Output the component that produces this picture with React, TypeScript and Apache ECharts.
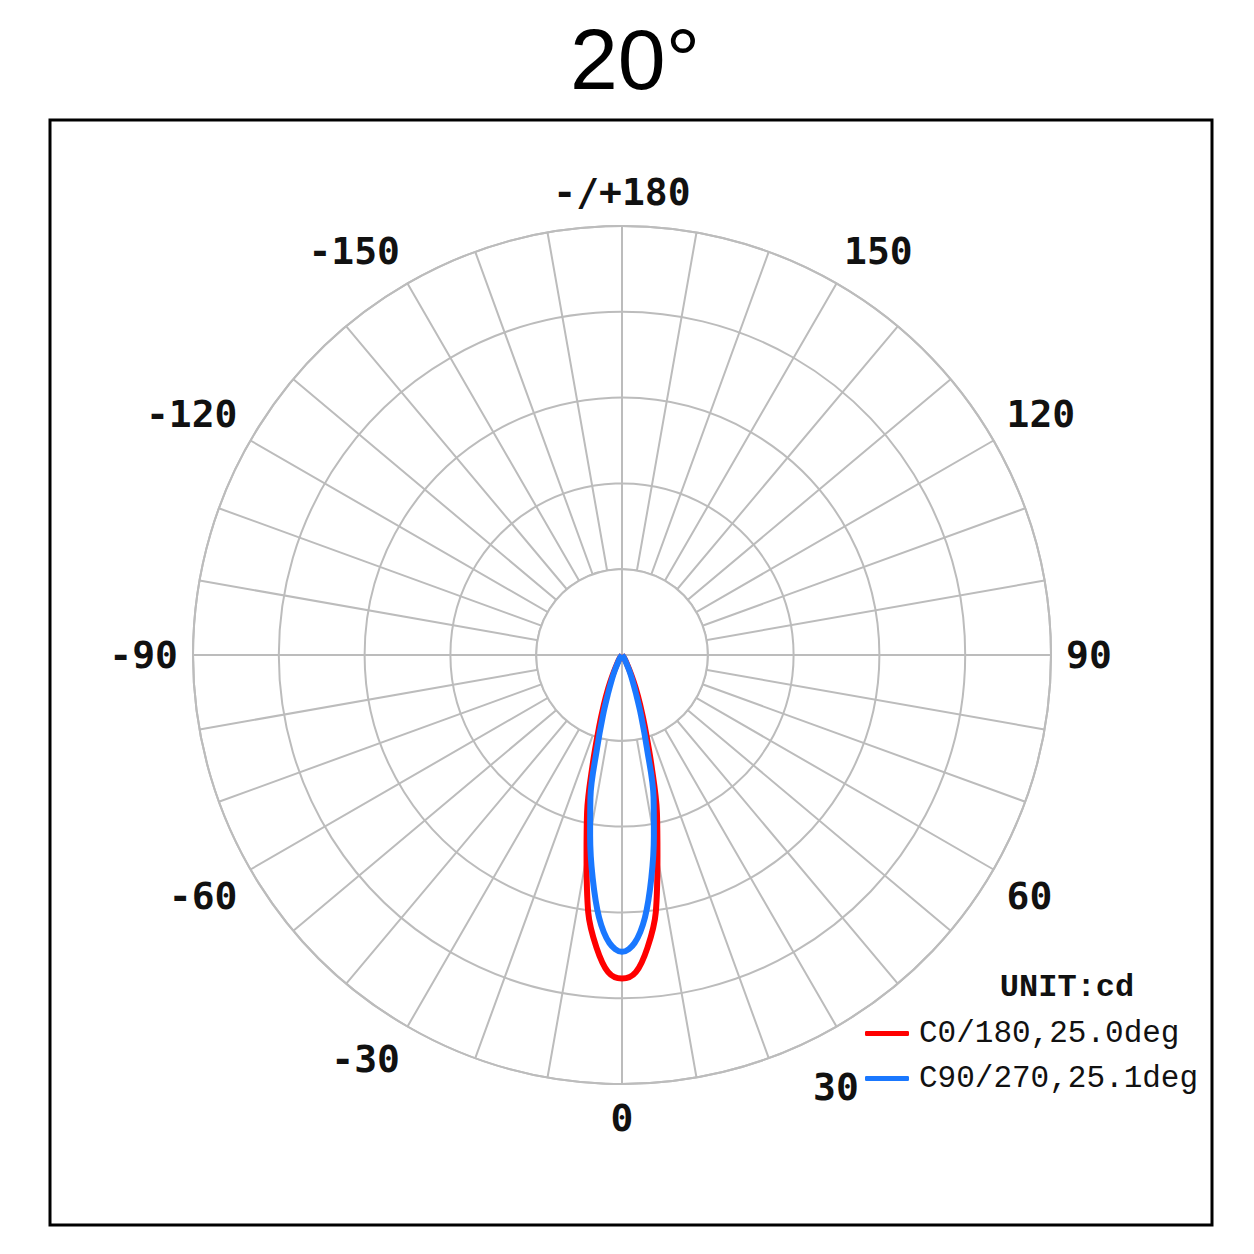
import React, { useEffect, useRef } from 'react';
import * as echarts from 'echarts';

// one side of the lobe (angle from nadir, deg) – mirrored for the other half
const angles = [0, 2.5, 5, 7.5, 10, 12.5, 15, 17.5, 20, 22.5, 25, 30, 35, 40];
const c0Values = [3.77, 3.7, 3.42, 3.02, 2.38, 1.88, 1.32, 0.9, 0.62, 0.42, 0.26, 0.1, 0.04, 0];
const c90Values = [3.46, 3.36, 3.07, 2.62, 2.14, 1.7, 1.12, 0.74, 0.47, 0.31, 0.2, 0.08, 0.03, 0];

const angleLabels = [-180, -150, -120, -90, -60, -30, 0, 60, 90, 120, 150];
const seriesNames = ['C0/180,25.0deg', 'C90/270,25.1deg'];
const seriesColors = ['#ff0000', '#1a78ff'];

const CX = 622;
const CY = 655;
const R = 429;
const RMAX = 5;
const GRID = '#bcbcbc';
const LABEL_FONT = 'DejaVu Sans Mono';

const toPolar = (vals: number[]) => {
  const left = angles.slice().reverse().map((a, i) => [vals[angles.length - 1 - i], -a]);
  const right = angles.slice(1).map((a, i) => [vals[i + 1], a]);
  return [...left, ...right];
};

const App: React.FC = () => {
  const chartRef = useRef<HTMLDivElement | null>(null);

  useEffect(() => {
    if (!chartRef.current) return;
    const chart = echarts.init(chartRef.current, null, { renderer: 'svg' });
    const r1 = R / RMAX;

    chart.setOption({
      animation: false,
      backgroundColor: '#ffffff',
      title: [
        {
          text: '20°',
          left: 630,
          top: 11,
          textAlign: 'center',
          textStyle: { fontFamily: 'Liberation Sans', fontSize: 86, fontWeight: 'normal', color: '#000' },
        },
        {
          text: 'UNIT:cd',
          left: 1062,
          top: 966,
          textAlign: 'center',
          textStyle: { fontFamily: 'Liberation Mono', fontSize: 32, fontWeight: 'bold', color: '#111' },
        },
      ],
      legend: {
        orient: 'vertical',
        left: 860,
        top: 1013,
        itemWidth: 44,
        itemHeight: 5,
        itemGap: 14,
        icon: 'roundRect',
        data: seriesNames,
        textStyle: { fontFamily: 'Liberation Mono', fontSize: 31, color: '#111', padding: [0, 0, 0, 5] },
      },
      polar: { center: [CX, CY], radius: R },
      angleAxis: {
        type: 'value',
        min: -180,
        max: 180,
        interval: 10,
        startAngle: 90,
        clockwise: false,
        axisLine: { show: true, lineStyle: { color: GRID, width: 2 } },
        axisTick: { show: false },
        splitLine: { show: true, lineStyle: { color: GRID, width: 2 } },
        axisLabel: {
          margin: 15,
          fontFamily: LABEL_FONT,
          fontSize: 38,
          fontWeight: 'bold',
          color: '#111',
          formatter: (v: number) => {
            if (v === -180) return '-/+180';
            if (v === 180) return '';
            return angleLabels.includes(v) ? String(v) : '';
          },
        },
      },
      radiusAxis: {
        min: 0,
        max: RMAX,
        interval: 1,
        axisLine: { show: false },
        axisTick: { show: false },
        axisLabel: { show: false },
        splitLine: { show: true, lineStyle: { color: GRID, width: 2 } },
      },
      graphic: [
        {
          type: 'rect',
          z: 1,
          shape: { x: 50, y: 120, width: 1162, height: 1105 },
          style: { fill: 'none', stroke: '#000', lineWidth: 3 },
        },
        {
          type: 'circle',
          z: 1,
          shape: { cx: CX, cy: CY, r: r1 },
          style: { fill: '#fff', stroke: GRID, lineWidth: 2 },
        },
        {
          type: 'line',
          z: 1,
          shape: { x1: CX - r1, y1: CY, x2: CX + r1, y2: CY },
          style: { stroke: GRID, lineWidth: 2 },
        },
        {
          type: 'line',
          z: 1,
          shape: { x1: CX, y1: CY - r1, x2: CX, y2: CY + r1 },
          style: { stroke: GRID, lineWidth: 2 },
        },
        {
          // the 30° label sits below the legend in the original
          type: 'text',
          z: 1,
          x: 813,
          y: 1068,
          style: { text: '30', fontFamily: LABEL_FONT, fontSize: 38, fontWeight: 'bold', fill: '#111' },
        },
      ],
      series: [
        {
          name: seriesNames[0],
          type: 'line',
          coordinateSystem: 'polar',
          data: toPolar(c0Values),
          smooth: 0.35,
          showSymbol: false,
          z: 3,
          color: seriesColors[0],
          lineStyle: { color: seriesColors[0], width: 6 },
        },
        {
          name: seriesNames[1],
          type: 'line',
          coordinateSystem: 'polar',
          data: toPolar(c90Values),
          smooth: 0.35,
          showSymbol: false,
          z: 4,
          color: seriesColors[1],
          lineStyle: { color: seriesColors[1], width: 6 },
        },
      ],
    });

    return () => {
      chart.dispose();
    };
  }, []);

  return (
    <div
      ref={chartRef}
      style={{ position: 'fixed', left: 0, top: 0, width: '1254px', height: '1254px', background: '#fff' }}
    />
  );
};

export default App;
